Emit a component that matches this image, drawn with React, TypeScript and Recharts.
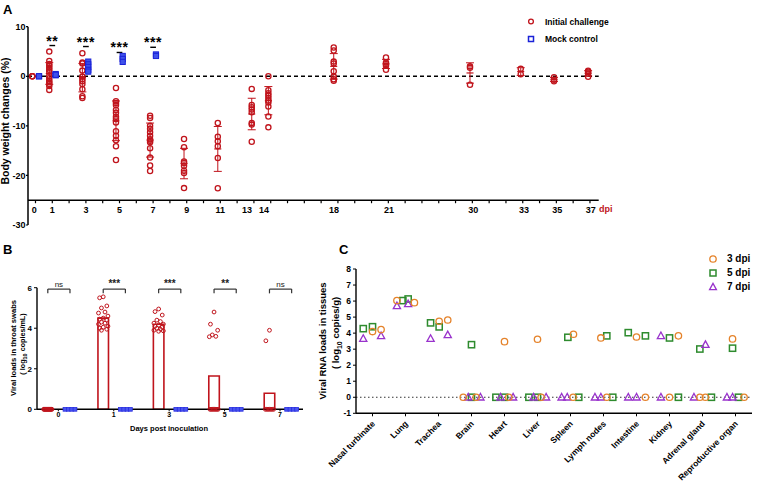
import React from 'react';
import { ScatterChart, Scatter, XAxis, YAxis, ReferenceLine, ReferenceArea, ErrorBar } from 'recharts';

const FONT = "Arial, 'Liberation Sans', Helvetica, sans-serif";
const RED = '#C0141C';
const BLUE = '#1A22D8';
const ORANGE = '#E5832B';
const GREEN = '#2E8B2E';
const PURPLE = '#9933CC';

// ---------------- Panel A : body weight changes ----------------
const aDayLabels = ['0', '1', '3', '5', '7', '9', '11', '13', '14', '18', '21', '30', '33', '35', '37'];
const aDayLabelPos = [-0.07, 1, 3, 5, 7, 9, 11, 12.59, 13.6, 17.77, 21.04, 26.06, 29.08, 31.06, 33.05];
const aMinorTickPos = [0, 1, 2, 3, 4, 5, 6, 7, 8, 9, 10, 11, 12, 13, 14, 15, 16, 17, 18, 19, 20, 21, 22, 23, 24, 25, 26, 27, 28, 29, 30, 31, 32, 33];
const aChallengePos = [-0.19, 0.82, 2.79, 4.79, 6.82, 8.84, 10.85, 12.87, 13.86, 17.75, 20.86, 25.86, 28.88, 30.86, 32.89];
const aChallengeValues: number[][] = [
  [0, 0, 0],
  [4.98, 3.1, 2.5, 2.1, 1.7, 1.3, 0.9, 0.1, -0.4, -0.9, -1.2, -1.55, -1.95, -2.75],
  [4.65, 2.76, 2.6, 1.14, -0.07, -0.54, -1.0, -1.55, -2.63, -4.04, -4.38],
  [-2.36, -5.05, -5.4, -5.8, -6.8, -7.35, -8.15, -8.6, -9.3, -11.1, -12.0, -12.9, -14.1, -16.9],
  [-7.95, -8.4, -10.0, -10.6, -11.3, -12.0, -12.7, -13.0, -13.3, -14.5, -16.4, -18.0, -19.1],
  [-12.66, -14.3, -17.2, -17.5, -18.05, -19.06, -19.5, -22.56],
  [-9.43, -12.2, -13.1, -14.1, -16.5, -22.6],
  [-2.55, -5.8, -6.25, -6.7, -7.25, -9.4, -9.75, -13.2],
  [0, -2.8, -3.4, -3.9, -4.4, -4.9, -5.3, -6.1, -8.1, -10.3],
  [5.8, 5.2, 2.96, 2.6, 1.0, -0.07, -0.6, -0.88],
  [3.8, 2.8, 2.5, 2.1, 1.3],
  [2.0, 1.7, -1.7],
  [1.5, 0.4],
  [-0.2, -0.7, -1.0],
  [1.1, 0.9, 0.5, -0.1],
];
const aMockPos = [0.21, 1.2, 3.14, 5.19, 7.17];
const aMockValues: number[][] = [
  [0, 0],
  [0.2, 0.45, 0.3],
  [2.96, 2.4, 1.9, 1.3, 0.94],
  [4.1, 3.5, 2.9],
  [4.4, 4.1],
];
const aSigLabels = ['**', '***', '***', '***'];
const aSigPos = [1, 3, 5, 7];
const aSigTextY = [7.66, 7.4, 6.33, 7.4];
const aSigDashY = [6.2, 6.0, 4.8, 5.85];

// ---------------- Panel B : throat swabs ----------------
const bDayLabels = ['0', '1', '3', '5', '7'];
const bBarMeans = [0, 4.5, 4.2, 1.64, 0.79];
const bChallengeValues: number[][] = [
  [0, 0, 0, 0, 0, 0, 0, 0, 0, 0, 0, 0, 0, 0, 0, 0],
  [5.55, 5.5, 5.1, 5.0, 4.8, 4.75, 4.6, 4.5, 4.45, 4.4, 4.3, 4.25, 4.2, 4.1, 4.05, 4.0, 3.95, 3.9],
  [4.95, 4.82, 4.65, 4.4, 4.33, 4.25, 4.2, 4.15, 4.1, 4.05, 4.0, 3.95, 3.9, 3.87, 3.85],
  [4.8, 4.2, 3.9, 3.67, 3.6, 3.58, 0, 0, 0, 0, 0, 0, 0, 0],
  [3.9, 3.38, 0, 0, 0, 0, 0, 0, 0],
];
const bMockValues: number[][] = [
  [0, 0, 0, 0],
  [0, 0, 0, 0],
  [0, 0, 0, 0],
  [0, 0, 0, 0],
  [0, 0, 0, 0],
];
const bSigLabels = ['ns', '***', '***', '**', 'ns'];
const bSigY = 5.93;
const bSigLegY = 5.72;

// ---------------- Panel C : tissues ----------------
const cTissues = ['Nasal turbinate', 'Lung', 'Trachea', 'Brain', 'Heart', 'Liver', 'Spleen', 'Lymph nodes', 'Intestine', 'Kidney', 'Adrenal gland', 'Reproductive organ'];
// [tissue index, jitter within band, value]
const cDpi3: [number, number, number][] = [
  [0, 0, 4.1], [0, 0.26, 4.22],
  [1, -0.26, 6.03], [1, 0.27, 5.9],
  [2, 0.02, 4.74], [2, 0.28, 4.82],
  [3, -0.25, 0], [3, 0.14, 0],
  [4, 0, 3.47], [4, 0.13, 0],
  [5, 0, 3.62], [5, 0.11, 0],
  [6, 0.09, 3.93], [6, 0.08, 0],
  [7, -0.08, 3.7], [7, 0.1, 0],
  [8, 0, 3.76], [8, 0.27, 0],
  [9, 0.27, 3.83], [9, 0, 0],
  [10, -0.08, 0], [10, 0.09, 0],
  [11, -0.09, 3.64], [11, 0.26, 0],
];
const cDpi5: [number, number, number][] = [
  [0, -0.28, 4.28], [0, 0, 4.4],
  [1, -0.08, 6.03], [1, 0.08, 6.13],
  [2, -0.24, 4.64], [2, 0.02, 4.39],
  [3, 0, 3.28], [3, 0, 0],
  [4, -0.26, 0], [4, 0, 0],
  [5, -0.26, 0], [5, 0, 0],
  [6, -0.08, 3.74], [6, 0.25, 0],
  [7, 0.1, 3.83], [7, 0.28, 0],
  [8, -0.25, 4.03], [8, 0.27, 3.83],
  [9, 0, 3.7], [9, 0.27, 0],
  [10, -0.08, 3.01], [10, 0.27, 0],
  [11, -0.09, 3.06], [11, 0.09, 0],
];
const cDpi7: [number, number, number][] = [
  [0, -0.28, 3.66], [0, 0.26, 3.83],
  [1, -0.26, 5.7], [1, 0.08, 5.82],
  [2, -0.24, 3.66], [2, 0.28, 3.89],
  [3, -0.1, 0], [3, 0.27, 0],
  [4, -0.12, 0], [4, 0.26, 0],
  [5, -0.12, 0], [5, 0.26, 0],
  [6, -0.27, 0], [6, -0.1, 0],
  [7, -0.26, 0], [7, -0.08, 0],
  [8, -0.25, 0], [8, 0, 0],
  [9, -0.26, 3.83], [9, -0.26, 0],
  [10, 0.09, 3.28], [10, -0.26, 0],
  [11, -0.26, 0], [11, -0.09, 0],
];

// ---------------- helpers ----------------
const txt = { fontFamily: FONT, fill: '#000', fontWeight: 'bold' as const };

const VText = ({ x, y, size, children, weight = 'bold' }: any) => (
  <div style={{ position: 'absolute', left: x, top: y, transform: 'translate(-50%,-50%) rotate(-90deg)', fontSize: size, fontWeight: weight, whiteSpace: 'nowrap', fontFamily: FONT, lineHeight: 1, color: '#000' }}>{children}</div>
);
const HText = ({ x, y, size, children, color = '#000', weight = 'bold', anchor = 'left' }: any) => (
  <div style={{ position: 'absolute', left: x, top: y, transform: anchor === 'center' ? 'translate(-50%,-50%)' : 'translate(0,-50%)', fontSize: size, fontWeight: weight, whiteSpace: 'nowrap', fontFamily: FONT, lineHeight: 1, color }}>{children}</div>
);

const RedCircleA = (p: any) => <circle cx={p.cx} cy={p.cy} r={2.6} fill="none" stroke={RED} strokeWidth={1.3} />;
const BlueSquareA = (p: any) => <rect x={p.cx - 2.6} y={p.cy - 2.6} width={5.2} height={5.2} fill="#3F52EA" stroke={BLUE} strokeWidth={1} />;
const MeanTickA = (p: any) => <line x1={p.cx - 3.5} x2={p.cx + 3.5} y1={p.cy} y2={p.cy} stroke={RED} strokeWidth={1.2} />;

function PanelA() {
  const red = aChallengeValues.flatMap((vals, i) => vals.map((v) => ({ x: aChallengePos[i], y: v })));
  const blue = aMockValues.flatMap((vals, i) => vals.map((v) => ({ x: aMockPos[i], y: v })));
  const stats = aChallengeValues
    .map((vals, i) => {
      const n = vals.length;
      const m = vals.reduce((a, b) => a + b, 0) / n;
      const sd = n > 1 ? Math.sqrt(vals.reduce((a, b) => a + (b - m) * (b - m), 0) / (n - 1)) : 0;
      return { x: aChallengePos[i], y: m, sd };
    })
    .filter((d) => d.sd > 0);
  const labelTicks = aDayLabels.map((l, i) => ({ x: aDayLabelPos[i], y: -25, label: l }));
  const minorTicks = aMinorTickPos.map((p) => ({ x: p, y: -25 }));
  const sigText = aSigLabels.map((l, i) => ({ x: aSigPos[i], y: aSigTextY[i], label: l }));
  return (
    <ScatterChart width={640} height={232} margin={{ top: 26.7, right: 41.3, bottom: 7, left: 0 }}>
      <XAxis type="number" dataKey="x" domain={[-0.446, 33.52]} hide />
      <YAxis type="number" dataKey="y" domain={[-30, 10]} ticks={[-30, -20, -10, 0, 10]} width={28}
        axisLine={{ stroke: '#000', strokeWidth: 1.5 }} tickLine={{ stroke: '#000', strokeWidth: 1.2 }} tickSize={2} tickMargin={0.5}
        tick={{ fontSize: 9, ...txt }} />
      <ReferenceLine y={0} stroke="#000" strokeDasharray="4 3" strokeWidth={1.4} />
      <ReferenceLine y={-25} stroke="#000" strokeWidth={1.5} />
      {aSigPos.map((p, i) => (
        <ReferenceLine key={'d' + i} segment={[{ x: p - 0.17, y: aSigDashY[i] }, { x: p + 0.17, y: aSigDashY[i] }]} stroke="#000" strokeWidth={1.4} />
      ))}
      <Scatter data={minorTicks} isAnimationActive={false}
        shape={(p: any) => <line x1={p.cx} x2={p.cx} y1={p.cy} y2={p.cy + 3} stroke="#000" strokeWidth={1.2} />} />
      <Scatter data={labelTicks} isAnimationActive={false}
        shape={(p: any) => (
          <text x={p.cx} y={p.cy + 13} textAnchor="middle" fontSize={9} {...txt}>{p.payload.label}</text>
        )} />
      <Scatter data={sigText} isAnimationActive={false}
        shape={(p: any) => (
          <text x={p.cx} y={p.cy + 7.5} textAnchor="middle" fontSize={14} letterSpacing={0.6} {...txt}>{p.payload.label}</text>
        )} />
      <Scatter data={stats} shape={MeanTickA} isAnimationActive={false}>
        <ErrorBar dataKey="sd" direction="y" width={4} stroke={RED} strokeWidth={1} />
      </Scatter>
      <Scatter data={red} shape={RedCircleA} isAnimationActive={false} />
      <Scatter data={blue} shape={BlueSquareA} isAnimationActive={false} />
    </ScatterChart>
  );
}

const bJitter = [0, -0.065, 0.065, -0.032, 0.032, -0.085, 0.085];

function PanelB() {
  const red: { x: number; y: number }[] = [];
  bChallengeValues.forEach((vals, i) => {
    const pos = vals.filter((v) => v > 0);
    const zeros = vals.filter((v) => v === 0);
    pos.forEach((v, k) => red.push({ x: i - 0.19 + bJitter[k % bJitter.length], y: v }));
    zeros.forEach((v, k) => red.push({ x: i - 0.19 - 0.075 + (0.15 * k) / Math.max(1, zeros.length - 1), y: v }));
  });
  const blue: { x: number; y: number }[] = [];
  bMockValues.forEach((vals, i) => {
    vals.forEach((v, k) => blue.push({ x: i + 0.21 - 0.09 + (0.18 * k) / Math.max(1, vals.length - 1), y: v }));
  });
  const sig = bSigLabels.map((l, i) => ({ x: i + 0.01, y: bSigY, label: l }));
  return (
    <ScatterChart width={310} height={226} margin={{ top: 27.7, right: 7, bottom: 56.7, left: 0 }}>
      <XAxis type="number" dataKey="x" domain={[-0.385, 4.415]} ticks={[0, 1, 2, 3, 4]} interval={0}
        tickFormatter={(v: number) => bDayLabels[v]} height={20} tickSize={2} tickMargin={1}
        axisLine={{ stroke: '#000', strokeWidth: 1.4 }} tickLine={{ stroke: '#000', strokeWidth: 1 }}
        tick={{ fontSize: 7, ...txt }} />
      <YAxis type="number" dataKey="y" domain={[0, 6]} ticks={[0, 2, 4, 6]} width={37}
        axisLine={{ stroke: '#000', strokeWidth: 1.4 }} tickLine={{ stroke: '#000', strokeWidth: 1 }} tickSize={3} tickMargin={2}
        tick={{ fontSize: 8, ...txt }} />
      {bBarMeans.map((m, i) => m > 0 ? (
        <ReferenceArea key={'bar' + i} x1={i - 0.19 - 0.095} x2={i - 0.19 + 0.095} y1={0} y2={m}
          fill="#fff" fillOpacity={0} stroke={RED} strokeWidth={1.6} />
      ) : null)}
      {bSigLabels.map((l, i) => (
        <ReferenceLine key={'bt' + i} segment={[{ x: i - 0.19, y: bSigY }, { x: i + 0.21, y: bSigY }]} stroke="#333" strokeWidth={1.2} />
      ))}
      {bSigLabels.map((l, i) => (
        <ReferenceLine key={'bl' + i} segment={[{ x: i - 0.19, y: bSigY }, { x: i - 0.19, y: bSigLegY }]} stroke="#333" strokeWidth={1.2} />
      ))}
      {bSigLabels.map((l, i) => (
        <ReferenceLine key={'br' + i} segment={[{ x: i + 0.21, y: bSigY }, { x: i + 0.21, y: bSigLegY }]} stroke="#333" strokeWidth={1.2} />
      ))}
      <Scatter data={sig} isAnimationActive={false}
        shape={(p: any) => (
          <text x={p.cx} y={p.cy - 2} textAnchor="middle" fontSize={p.payload.label === 'ns' ? 8 : 10}
            fontFamily={FONT} fill="#222" fontWeight={p.payload.label === 'ns' ? 'normal' : 'bold'}>{p.payload.label}</text>
        )} />
      <Scatter data={blue} isAnimationActive={false}
        shape={(p: any) => <rect x={p.cx - 1.9} y={p.cy - 1.9} width={3.8} height={3.8} fill="#4A55F0" stroke="#2A30E0" strokeWidth={0.8} />} />
      <Scatter data={red} isAnimationActive={false}
        shape={(p: any) => <circle cx={p.cx} cy={p.cy} r={1.9} fill="none" stroke={RED} strokeWidth={1} />} />
    </ScatterChart>
  );
}

const CTick = (p: any) => (
  <g transform={`translate(${p.x + 3},${p.y + 6}) rotate(-45)`}>
    <text x={0} y={0} textAnchor="end" fontSize={8.5} {...txt}>{cTissues[p.payload.value]}</text>
  </g>
);

const Tri = (cx: number, cy: number, s: number) => `${cx},${cy - s} ${cx - s * 0.95},${cy + s * 0.72} ${cx + s * 0.95},${cy + s * 0.72}`;

function PanelC() {
  const toPts = (arr: [number, number, number][]) => arr.map(([c, j, v]) => ({ x: c + j, y: v }));
  return (
    <ScatterChart width={458} height={226} margin={{ top: 9, right: 6, bottom: 0, left: 0 }}>
      <XAxis type="number" dataKey="x" domain={[-0.5, 11.5]} ticks={[0, 1, 2, 3, 4, 5, 6, 7, 8, 9, 10, 11]} interval={0}
        height={72.7} tickSize={3} tickMargin={2}
        axisLine={{ stroke: '#000', strokeWidth: 1.4 }} tickLine={{ stroke: '#000', strokeWidth: 1 }}
        tick={(p: any) => <CTick {...p} />} />
      <YAxis type="number" dataKey="y" domain={[-1, 8]} ticks={[-1, 0, 1, 2, 3, 4, 5, 6, 7, 8]} width={56}
        axisLine={{ stroke: '#000', strokeWidth: 1.4 }} tickLine={{ stroke: '#000', strokeWidth: 1 }} tickSize={3} tickMargin={2}
        tick={{ fontSize: 8.5, ...txt }} />
      <ReferenceLine y={0} stroke="#333" strokeDasharray="1.5 2.5" strokeWidth={1.1} />
      <Scatter data={toPts(cDpi5)} isAnimationActive={false}
        shape={(p: any) => <rect x={p.cx - 3.1} y={p.cy - 3.1} width={6.2} height={6.2} fill="none" stroke={GREEN} strokeWidth={1.5} />} />
      <Scatter data={toPts(cDpi7)} isAnimationActive={false}
        shape={(p: any) => <polygon points={Tri(p.cx, p.cy, 3.8)} fill="none" stroke={PURPLE} strokeWidth={1.3} />} />
      <Scatter data={toPts(cDpi3)} isAnimationActive={false}
        shape={(p: any) => <circle cx={p.cx} cy={p.cy} r={3.2} fill="none" stroke={ORANGE} strokeWidth={1.3} />} />
    </ScatterChart>
  );
}

export default function App() {
  return (
    <div style={{ position: 'absolute', left: 0, top: 0, width: 758, height: 486, background: '#fff', fontFamily: FONT, overflow: 'hidden' }}>
      {/* Panel A title drawn first so the axis ticks sit on top */}
      <VText x={5} y={121} size={10.5}>Body weight changes (%)</VText>
      <div style={{ position: 'absolute', left: 0, top: 0 }}><PanelA /></div>
      <div style={{ position: 'absolute', left: 0, top: 260 }}><PanelB /></div>
      <div style={{ position: 'absolute', left: 300, top: 260 }}><PanelC /></div>

      {/* panel letters */}
      <HText x={3} y={9} size={13}>A</HText>
      <HText x={3} y={249} size={13}>B</HText>
      <HText x={339} y={249} size={13}>C</HText>

      {/* Panel A legend */}
      <HText x={599} y={209} size={9} color={RED}>dpi</HText>
      <svg style={{ position: 'absolute', left: 0, top: 0 }} width={758} height={486}>
        <circle cx={531} cy={21.5} r={2.4} fill="none" stroke={RED} strokeWidth={1.3} />
        <rect x={528.5} y={36.5} width={5} height={5} fill="#fff" stroke={BLUE} strokeWidth={1.5} />
        <circle cx={713} cy={259} r={3.2} fill="none" stroke={ORANGE} strokeWidth={1.3} />
        <rect x={710} y={270} width={6} height={6} fill="none" stroke={GREEN} strokeWidth={1.5} />
        <polygon points={Tri(713, 287, 3.6)} fill="none" stroke={PURPLE} strokeWidth={1.3} />
      </svg>
      <HText x={545} y={21.5} size={8.5}>Initial challenge</HText>
      <HText x={545} y={39} size={8.5}>Mock control</HText>

      {/* Panel B titles */}
      <VText x={14} y={348} size={7.6}>Viral loads in throat swabs</VText>
      <VText x={23.5} y={344} size={7.2}>( log<sub style={{ fontSize: 5.5 }}>10</sub> copies/mL)</VText>
      <HText x={169} y={429} size={7.5} anchor="center">Days post inoculation</HText>

      {/* Panel C titles and legend */}
      <VText x={323} y={341} size={9.5}>Viral RNA loads in tissues</VText>
      <VText x={336.5} y={333} size={9.5}>( log<sub style={{ fontSize: 7 }}>10</sub> copies/g)</VText>
      <HText x={727} y={259} size={10}>3 dpi</HText>
      <HText x={727} y={273} size={10}>5 dpi</HText>
      <HText x={727} y={287} size={10}>7 dpi</HText>
    </div>
  );
}
